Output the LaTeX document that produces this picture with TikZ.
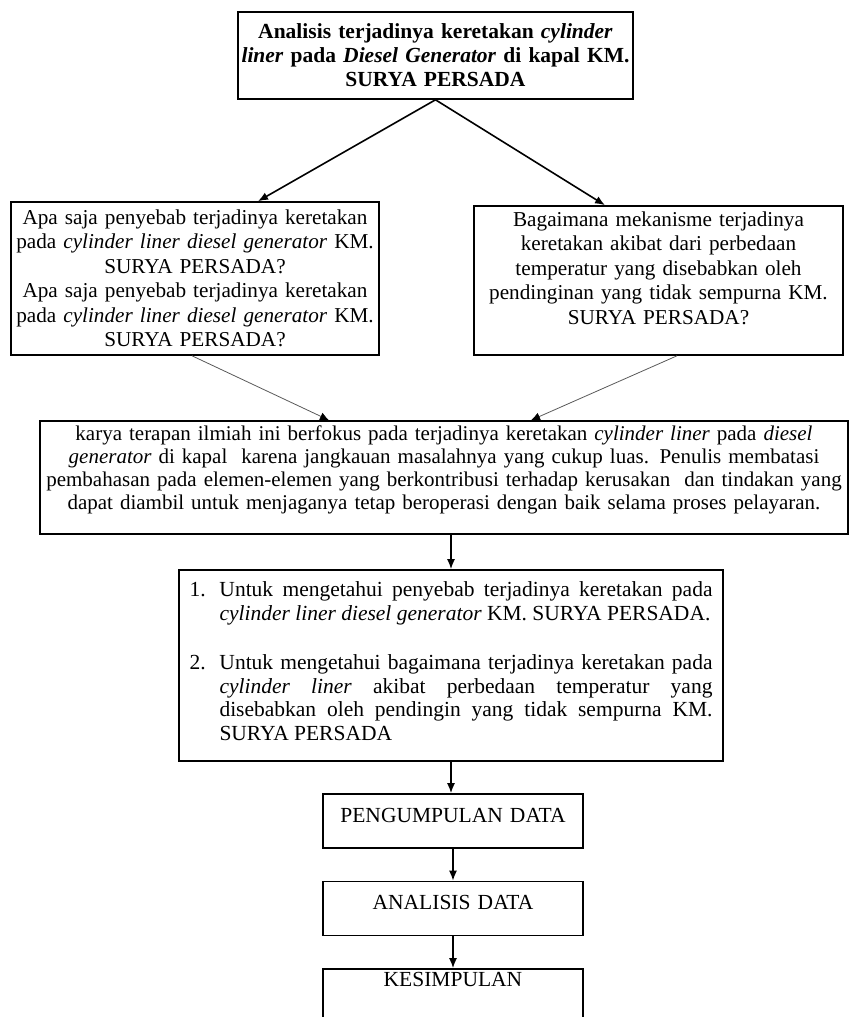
\documentclass[tikz,border=0pt]{standalone}
\usepackage{fontspec}
\setmainfont{Liberation Serif}
\usetikzlibrary{arrows.meta}
\tikzset{
  kotak/.style = {draw=black, rectangle, line width=1.6pt, inner xsep=0pt,
    inner ysep=2pt, align=center, font=\fontsize{21.2}{24.5}\selectfont},% kotak biasa
  kotak_j/.style = {kotak, font=\fontsize{21.5}{24}\selectfont\bfseries},% kotak judul
  kotak_k/.style = {kotak, text width=260pt, minimum height=54pt,
    font=\fontsize{21.5}{24.5}\selectfont},% kotak kecil
  panah/.style = {-{Latex[length=10pt,width=8pt]}, line width=1.6pt},% panah tebal
  garis/.style = {-{Latex[length=9pt,width=8pt,black]}, line width=0.8pt, black!65}% panah tipis
}

\begin{document}
\begin{tikzpicture}[x=1pt, y=-1pt]
  \useasboundingbox (0,0) rectangle (850,1017);
  \node [kotak_j, text width=395pt, minimum height=87pt] (judul) at (435.5,55.5)
    {Analisis terjadinya keretakan \textit{cylinder}\\ \textit{liner} pada
     \textit{Diesel Generator} di kapal KM.\\ SURYA PERSADA};
  \node [kotak, text width=368pt, minimum height=153pt] (tanya1) at (195,278.5)
    {Apa saja penyebab terjadinya keretakan\\
     pada \textit{cylinder liner diesel generator} KM.\\ SURYA PERSADA?\\
     Apa saja penyebab terjadinya keretakan\\
     pada \textit{cylinder liner diesel generator} KM.\\ SURYA PERSADA?};
  \node [kotak, text width=369pt, minimum height=149pt] (tanya2) at (658.5,280.5)
    {Bagaimana mekanisme terjadinya\\ keretakan akibat dari perbedaan\\
     temperatur yang disebabkan oleh\\ pendinginan yang tidak sempurna KM.\\
     SURYA PERSADA?\par\kern 25pt};
  \node [kotak, text width=808pt, minimum height=113pt,
    font=\fontsize{21}{23}\selectfont] (batas) at (444,477.5)
    {karya terapan ilmiah ini berfokus pada terjadinya keretakan \textit{cylinder liner}
     pada \textit{diesel}\\ \textit{generator} di kapal~ karena jangkauan masalahnya yang
     cukup luas. Penulis membatasi\\ pembahasan pada elemen-elemen yang berkontribusi
     terhadap kerusakan~ dan tindakan yang\\ dapat diambil untuk menjaganya tetap
     beroperasi dengan baik selama proses pelayaran.\par\kern 16pt};
  \node [kotak, text width=523pt, inner xsep=10.5pt, align=justify, minimum height=191pt,
    font=\fontsize{21.5}{23.5}\selectfont] (tujuan) at (451,665.5)
    {\hangindent=30pt\hangafter=1\noindent\makebox[30pt][l]{1.}Untuk mengetahui
     penyebab terjadinya keretakan pada\linebreak
     \textit{cylinder liner diesel generator} KM. SURYA PERSADA.\par
     \vspace{26pt}
     \hangindent=30pt\hangafter=1\noindent\makebox[30pt][l]{2.}Untuk mengetahui
     bagaimana terjadinya keretakan pada\linebreak
     \textit{cylinder liner} akibat perbedaan temperatur yang\linebreak
     disebabkan oleh pendingin yang tidak sempurna KM.\linebreak
     SURYA PERSADA\par\kern 9pt};
  \node [kotak_k] (kumpul) at (453,821) {PENGUMPULAN DATA\par\kern 12pt};
  \node [kotak_k] (analisis) at (453,908.5) {ANALISIS DATA\par\kern 13pt};
  \node [kotak_k] (simpul) at (453,996) {KESIMPULAN\par\kern 34pt};

  \draw [panah] (judul.south) -- ([xshift=63pt]tanya1.north);
  \draw [panah] (judul.south) -- ([xshift=-53.5pt]tanya2.north);
  \draw [garis] ([xshift=-3pt]tanya1.south) -- ([xshift=-115pt]batas.north);
  \draw [garis] ([xshift=18.5pt]tanya2.south) -- ([xshift=87pt]batas.north);
  \draw [panah] ([xshift=7pt]batas.south) -- (tujuan.north);
  \draw [panah] (tujuan.south) -- (tujuan.south |- kumpul.north);
  \draw [panah] (kumpul.south) -- (analisis.north);
  \draw [panah] (analisis.south) -- (simpul.north);
\end{tikzpicture}
\end{document}
